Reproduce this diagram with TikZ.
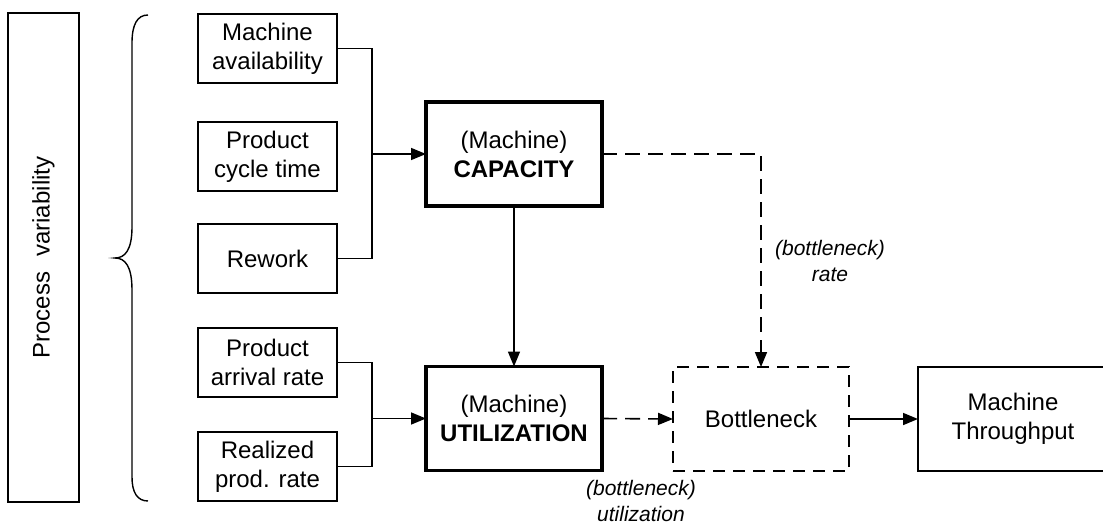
\documentclass[tikz,border=0pt]{standalone}
\usepackage{fontspec}
\setmainfont{Liberation Sans}
\usetikzlibrary{arrows.meta}
\begin{document}
\begin{tikzpicture}[x=1pt,y=-1pt,
  every node/.style={inner sep=0pt,outer sep=0pt},
  box/.style={draw,line width=1.6pt,minimum width=139pt,minimum height=69pt,
    align=center,font=\fontsize{24}{29}\selectfont},
  mainbox/.style={box,line width=3.2pt,minimum width=176pt,minimum height=104pt},
  dashbox/.style={box,dash pattern=on 12pt off 8pt,minimum width=176pt,minimum height=104pt},
  outbox/.style={box,minimum width=190pt,minimum height=104pt},
  lbl/.style={align=center,font=\fontsize{21}{26}\selectfont\itshape},
  link/.style={line width=1.6pt},
  flow/.style={link,-{Triangle[length=15pt,width=12pt]}},
  dflow/.style={flow,dash pattern=on 15pt off 8pt}]
\useasboundingbox (0,0) rectangle (1103,527);

% side box with the rotated caption
\node[draw,line width=1.6pt,minimum width=71pt,minimum height=489pt] (pv) at (43.5,257.5) {};
\node[rotate=90,font=\fontsize{24}{29}\selectfont] (pvt) at (pv.center) {Process\hspace{15pt}variability};

% curly brace grouping the input factors
\draw[line width=1.4pt] (148,15) .. controls (137,15) and (132,25) .. (132,43)
  -- (132,227) .. controls (132,250) and (125,258) .. (115,258)
  .. controls (125,258) and (132,266) .. (132,290)
  -- (132,477) .. controls (132,492) and (137,501) .. (148,501);

% input factors
\node[box] (avail)   at (267.5,48.5)  {Machine\\availability};
\node[box] (cycle)   at (267.5,156.5) {Product\\cycle time};
\node[box] (rework)  at (267.5,258.5) {Rework};
\node[box] (arrival) at (267.5,362.5) {Product\\arrival rate};
\node[box] (prod)    at (267.5,466.5) {Realized\\prod. rate};

% central quantities
\node[mainbox] (cap)  at (514,154)   {(Machine)\\\bfseries CAPACITY};
\node[mainbox] (util) at (514,418.5) {(Machine)\\\bfseries UTILIZATION};
\node[dashbox] (bn)   at (761,419)   {Bottleneck};
\node[outbox]  (tp)   at (1013,419)  {Machine\\Throughput};

% junctions of the input lines
\coordinate (j1) at (372,154);
\coordinate (j2) at (372,418.5);

\draw[link] (avail.east) -| (j1);
\draw[link] (rework.east) -| (j1);
\draw[flow] (j1) -- (cap.west);
\draw[link] (arrival.east) -| (j2);
\draw[link] (prod.east) -| (j2);
\draw[flow] (j2) -- (util.west);

\draw[flow] (cap.south) -- (util.north);
\draw[dflow] (cap.east) -| (bn.north);
\draw[dflow] (util.east) -- (bn.west);
\draw[flow] (bn.east) -- (tp.west);

% connector labels
\node[lbl] (lrate) at (830,261) {(bottleneck)\\rate};
\node[lbl] (lutil) at (641,501) {(bottleneck)\\utilization};
\end{tikzpicture}
\end{document}
